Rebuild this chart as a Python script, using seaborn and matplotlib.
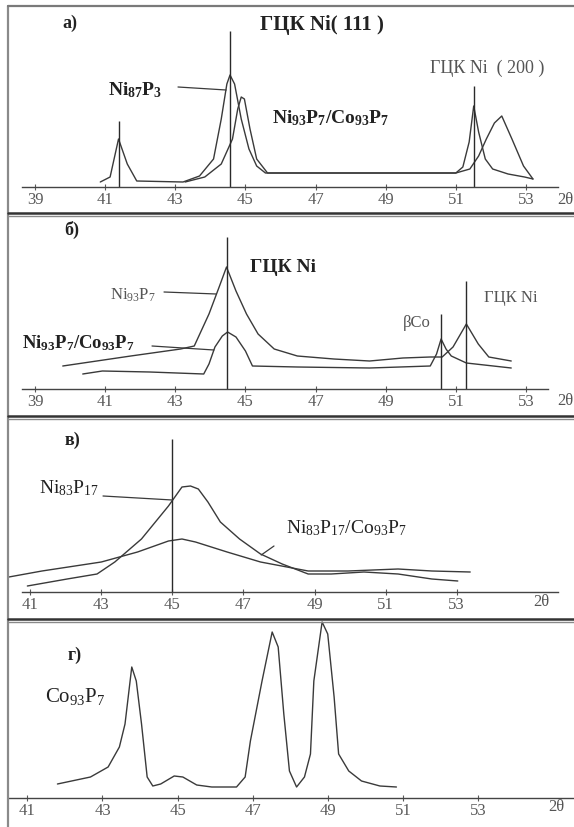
import matplotlib
matplotlib.use("Agg")
import matplotlib.pyplot as plt
from matplotlib.lines import Line2D
import seaborn as sns

# ---------------- data: diffraction intensity (a.u.) versus 2-theta (deg) ----------------
# а) Ni87P3 and Ni93P7/Co93P7
a_ni87_x = [40.86, 41.14, 41.38, 41.63, 41.90, 43.22, 43.69, 44.09, 44.31, 44.47, 44.56, 44.69,
            44.88, 45.10, 45.32, 45.57, 51.00, 51.20, 51.38, 51.51, 51.65, 51.84, 52.05, 52.49,
            52.96, 53.20]
a_ni87_i = [0.05, 0.10, 0.48, 0.23, 0.06, 0.05, 0.11, 0.28, 0.68, 1.03, 1.12, 1.03,
            0.68, 0.38, 0.21, 0.14, 0.14, 0.20, 0.45, 0.81, 0.55, 0.28, 0.18, 0.13,
            0.10, 0.08]
a_nico_x = [43.28, 43.84, 44.31, 44.63, 44.78, 44.88, 44.97, 45.13, 45.32, 45.63, 51.00, 51.40,
            51.65, 51.87, 52.10, 52.31, 52.60, 52.93, 53.20]
a_nico_i = [0.05, 0.10, 0.23, 0.48, 0.78, 0.90, 0.88, 0.58, 0.28, 0.14, 0.14, 0.18,
            0.31, 0.48, 0.64, 0.71, 0.48, 0.21, 0.08]
a_ref_x = [41.38, 44.56, 51.51]
a_ref_top = [0.66, 1.56, 1.01]

# б) Ni93P7 and Ni93P7/Co93P7
b_ni_x = [39.79, 41.73, 43.15, 43.54, 43.96, 44.25, 44.46, 44.73, 45.03, 45.36, 45.82, 46.48,
          47.52, 48.54, 49.49, 50.27, 50.61, 50.92, 51.30, 51.64, 51.94, 52.58]
b_ni_i = [0.23, 0.33, 0.40, 0.43, 0.75, 1.02, 1.22, 0.98, 0.75, 0.55, 0.40, 0.33,
          0.30, 0.28, 0.31, 0.32, 0.32, 0.42, 0.65, 0.45, 0.32, 0.28]
b_nico_x = [40.36, 40.92, 42.27, 43.81, 43.96, 44.13, 44.34, 44.49, 44.73, 45.00, 45.20, 46.48,
            48.54, 50.27, 50.45, 50.58, 50.72, 50.87, 51.30, 52.58]
b_nico_i = [0.15, 0.18, 0.17, 0.15, 0.25, 0.42, 0.53, 0.57, 0.52, 0.38, 0.23, 0.22,
            0.21, 0.23, 0.35, 0.50, 0.40, 0.33, 0.26, 0.21]
b_ref_x = [44.46, 50.58, 51.30]
b_ref_top = [1.52, 0.75, 1.08]

# в) Ni83P17 and Ni83P17/Co93P7
c_ni_x = [40.92, 42.04, 42.88, 43.38, 44.13, 44.89, 45.27, 45.51, 45.73, 46.00, 46.35, 46.89,
          47.48, 48.09, 48.82, 49.47, 50.39, 51.35, 52.30, 53.03]
c_ni_i = [0.06, 0.13, 0.18, 0.30, 0.53, 0.86, 1.05, 1.06, 1.03, 0.90, 0.70, 0.53,
          0.38, 0.28, 0.18, 0.18, 0.20, 0.18, 0.13, 0.11]
c_nico_x = [40.40, 41.33, 43.00, 44.02, 44.89, 45.27, 45.65, 46.54, 47.48, 48.82, 49.94, 51.35,
            52.30, 53.38]
c_nico_i = [0.15, 0.21, 0.30, 0.40, 0.51, 0.53, 0.50, 0.40, 0.30, 0.21, 0.21, 0.23,
            0.21, 0.20]
c_ref_x = [45.0]
c_ref_top = [1.53]

# г) Co93P7
d_co_x = [41.80, 42.68, 43.15, 43.45, 43.60, 43.78, 43.90, 44.04, 44.19, 44.34, 44.55, 44.91,
          45.14, 45.51, 45.91, 46.57, 46.80, 46.94, 47.25, 47.52, 47.68, 47.83, 47.98, 48.17,
          48.38, 48.54, 48.63, 48.85, 49.00, 49.17, 49.29, 49.56, 49.90, 50.39, 50.83]
d_co_i = [0.14, 0.21, 0.31, 0.51, 0.74, 1.31, 1.17, 0.74, 0.21, 0.12, 0.14, 0.22,
          0.21, 0.13, 0.11, 0.11, 0.21, 0.57, 1.17, 1.66, 1.51, 0.84, 0.27, 0.11,
          0.21, 0.44, 1.17, 1.76, 1.64, 1.01, 0.44, 0.27, 0.17, 0.12, 0.11]

ticks_ab = [39, 41, 43, 45, 47, 49, 51, 53]
ticks_cd = [41, 43, 45, 47, 49, 51, 53]

# ---------------- style ----------------
sns.set_theme(style="white")
plt.rcParams["font.family"] = ["Liberation Serif", "DejaVu Serif"]
plt.rcParams["mathtext.fontset"] = "custom"
plt.rcParams["mathtext.rm"] = "Liberation Serif"
plt.rcParams["mathtext.bf"] = "Liberation Serif:bold"
plt.rcParams["mathtext.it"] = "Liberation Serif:italic"

INK = "#3a3a3a"
GREY = "#555555"
W, H = 574, 828
fig = plt.figure(figsize=(W / 100, H / 100), dpi=100)
fig.patch.set_facecolor("white")


def fx(px):
    return px / W


def fy(py):
    return 1 - py / H


def fpx(px, py):
    return (px, H - py)


# panel geometry in pixels: frame top, frame bottom, baseline row, x-range of the axes
layout = [
    dict(top=7, bottom=215, base=188, xlim=(38.00, 54.37), spine=(38.63, 53.91), ticks=ticks_ab),
    dict(top=215, bottom=418, base=390, xlim=(38.00, 54.37), spine=(38.63, 53.63), ticks=ticks_ab),
    dict(top=418, bottom=621, base=593, xlim=(40.15, 56.30), spine=(40.77, 55.85), ticks=ticks_cd),
    dict(top=621, bottom=828, base=799, xlim=(40.27, 55.56), spine=(40.48, 55.56), ticks=ticks_cd),
]

axes = []
for g in layout:
    ax = fig.add_axes([0, fy(g["bottom"]), 1, (g["bottom"] - g["top"]) / H])
    ax.set_xlim(*g["xlim"])
    ax.set_ylim(-(g["bottom"] - g["base"]) / 100, (g["base"] - g["top"]) / 100)
    ax.patch.set_alpha(0)
    for s in ("top", "right", "left"):
        ax.spines[s].set_visible(False)
    ax.spines["bottom"].set_position(("data", 0))
    ax.spines["bottom"].set_bounds(*g["spine"])
    ax.spines["bottom"].set_color("#444444")
    ax.spines["bottom"].set_linewidth(1.0)
    ax.set_yticks([])
    ax.set_xticks(g["ticks"])
    ax.set_xticklabels([str(t) for t in g["ticks"]])
    ax.tick_params(axis="x", direction="inout", length=5, width=0.8, colors="#5a5a5a",
                   labelsize=12, pad=0.5, bottom=True)
    axes.append(ax)


def curve(ax, x, y):
    sns.lineplot(x=x, y=y, ax=ax, color=INK, linewidth=1.0, sort=False, estimator=None)
    ax.set_xlabel("")
    ax.set_ylabel("")


# а)
ax = axes[0]
curve(ax, a_ni87_x, a_ni87_i)
curve(ax, a_nico_x, a_nico_i)
ax.vlines(a_ref_x, 0, a_ref_top, color="#2a2a2a", linewidth=1.0)
# б)
ax = axes[1]
curve(ax, b_ni_x, b_ni_i)
curve(ax, b_nico_x, b_nico_i)
ax.vlines(b_ref_x, 0, b_ref_top, color="#2a2a2a", linewidth=1.0)
# в)
ax = axes[2]
curve(ax, c_ni_x, c_ni_i)
curve(ax, c_nico_x, c_nico_i)
ax.vlines(c_ref_x, 0, c_ref_top, color="#2a2a2a", linewidth=1.0)
# г)
ax = axes[3]
curve(ax, d_co_x, d_co_i)

# ---------------- labels ----------------
def label(px, py, s, size=11, bold=False, color="#222222", ha="center"):
    fig.text(fx(px), fy(py), s, ha=ha, va="center", fontsize=size,
             fontweight="bold" if bold else "normal", color=color)


def leader(ax, start_px, xy):
    ax.annotate("", xy=xy, xycoords="data", xytext=fpx(*start_px), textcoords="figure pixels",
                arrowprops=dict(arrowstyle="-", color=INK, lw=0.9, shrinkA=0, shrinkB=0))


# а)
label(70, 23, "а)", 13, True)
label(322, 25, "ГЦК Ni( 111 )", 15, True)
label(135, 90, r"$\mathbf{Ni_{87}P_{3}}$", 14)
leader(axes[0], (178, 88), (44.45, 0.97))
label(331, 118, r"$\mathbf{Ni_{93}P_{7}/Co_{93}P_{7}}$", 14)
label(487, 68, "ГЦК Ni  ( 200 )", 13, False, GREY)
label(565, 200, "2θ", 12, False, GREY)

# б)
label(72, 230, "б)", 13, True)
label(283, 268, "ГЦК Ni", 14, True)
label(133, 295, r"$\mathrm{Ni_{93}P_{7}}$", 12, False, GREY)
leader(axes[1], (164, 293), (44.17, 0.95))
label(78, 343, r"$\mathbf{Ni_{93}P_{7}/Co_{93}P_{7}}$", 13.5)
leader(axes[1], (152, 347), (44.10, 0.39))
label(417, 323, "βCo", 12, False, GREY)
label(511, 298, "ГЦК Ni", 12, False, GREY)
label(565, 401, "2θ", 12, False, GREY)

# в)
label(72, 440, "в)", 13, True)
label(69, 488, r"$\mathrm{Ni_{83}P_{17}}$", 14)
leader(axes[2], (103, 497), (45.0, 0.92))
label(346, 528, r"$\mathrm{Ni_{83}P_{17}/Co_{93}P_{7}}$", 14)
leader(axes[2], (274, 547), (47.50, 0.37))
label(541, 602, "2θ", 12, False, GREY)

# г)
label(75, 655, "г)", 13, True)
label(75, 697, r"$\mathrm{Co_{93}P_{7}}$", 15)
label(556, 807, "2θ", 12, False, GREY)

# ---------------- frame ----------------
def hline(py, color, lw):
    fig.add_artist(Line2D([fx(8), fx(W)], [fy(py), fy(py)], transform=fig.transFigure,
                          color=color, linewidth=lw))


fig.add_artist(Line2D([fx(8), fx(8)], [fy(7), fy(H)], transform=fig.transFigure,
                      color="#8a8a8a", linewidth=1.6))
hline(7, "#7a7a7a", 1.6)
for py in (215, 418, 621):
    hline(py - 1.2, "#333333", 1.8)
    hline(py + 1.8, "#8a8a8a", 1.0)

fig.savefig("out.png", dpi=100, facecolor="white")
